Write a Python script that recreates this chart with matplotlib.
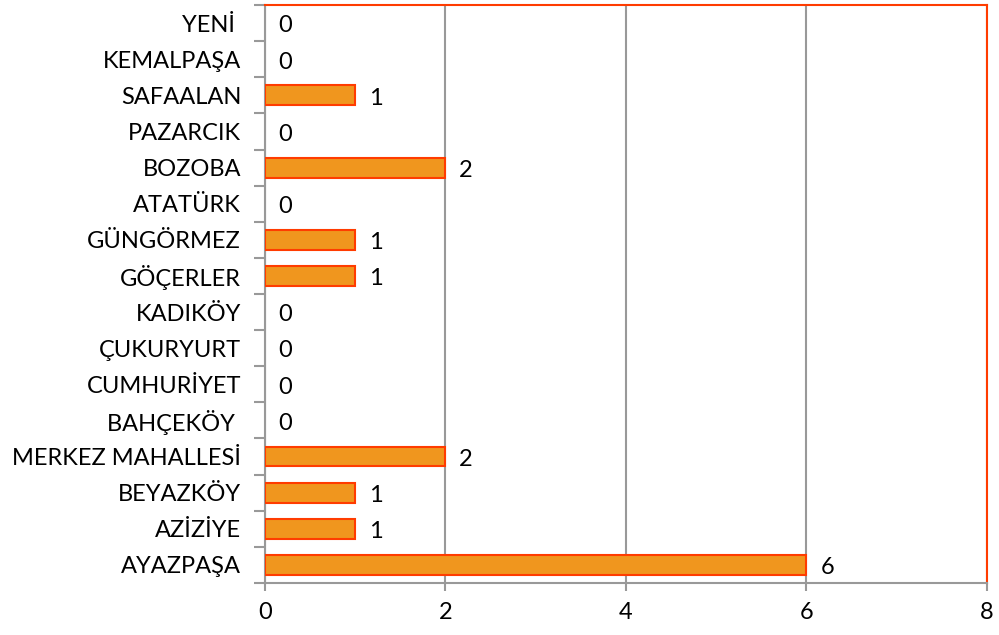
import matplotlib.pyplot as plt
import numpy as np

plt.rcParams['font.family'] = ['Lato', 'DejaVu Sans']

# veriler (alttan üste)
mahalleler = ['AYAZPAŞA', 'AZİZİYE', 'BEYAZKÖY', 'MERKEZ MAHALLESİ', 'BAHÇEKÖY ',
              'CUMHURİYET', 'ÇUKURYURT', 'KADIKÖY', 'GÖÇERLER', 'GÜNGÖRMEZ',
              'ATATÜRK', 'BOZOBA', 'PAZARCIK', 'SAFAALAN', 'KEMALPAŞA', 'YENİ ']
sayilar = [6, 1, 1, 2, 0, 0, 0, 0, 1, 1, 0, 2, 0, 1, 0, 0]
x_ticks = [0, 2, 4, 6, 8]

fig = plt.figure(figsize=(9.99, 6.35), dpi=100)
ax = fig.add_axes([0.265, 0.082, 0.723, 0.910])

y = np.arange(len(mahalleler))
kenar = [1.5 if v > 0 else 0 for v in sayilar]
ax.barh(y, sayilar, height=0.55, color='#F0961E', edgecolor='#FF3C00', linewidth=kenar, zorder=3)

for yi, v in zip(y, sayilar):
    ax.annotate(str(v), (v, yi), xytext=(10, -2), textcoords='offset points',
                va='center', ha='left', fontsize=17, color='black')

ax.set_xlim(0, 8)
ax.set_ylim(-0.5, len(mahalleler) - 0.5)
ax.set_xticks(x_ticks)
ax.set_xticklabels([str(t) for t in x_ticks], fontsize=17)
ax.tick_params(axis='x', length=6, width=1.5, color='#999999', pad=8)

# kategori sınırlarında tik işaretleri
ax.set_yticks(np.arange(-0.5, len(mahalleler), 1.0))
ax.set_yticklabels([])
ax.set_yticks(y, minor=True)
ax.set_yticklabels(mahalleler, minor=True, fontsize=17)
ax.tick_params(axis='y', which='major', length=8, width=1.5, color='#999999')
ax.tick_params(axis='y', which='minor', length=0, pad=17)

ax.grid(axis='x', color='#999999', linewidth=1.5, zorder=0)
ax.spines['left'].set_color('#999999')
ax.spines['left'].set_linewidth(1.5)
ax.spines['bottom'].set_color('#999999')
ax.spines['bottom'].set_linewidth(1.5)
ax.spines['top'].set_color('#FF3C00')
ax.spines['top'].set_linewidth(1.5)
ax.spines['right'].set_color('#FF3C00')
ax.spines['right'].set_linewidth(1.5)

fig.savefig('out.png', dpi=100)
